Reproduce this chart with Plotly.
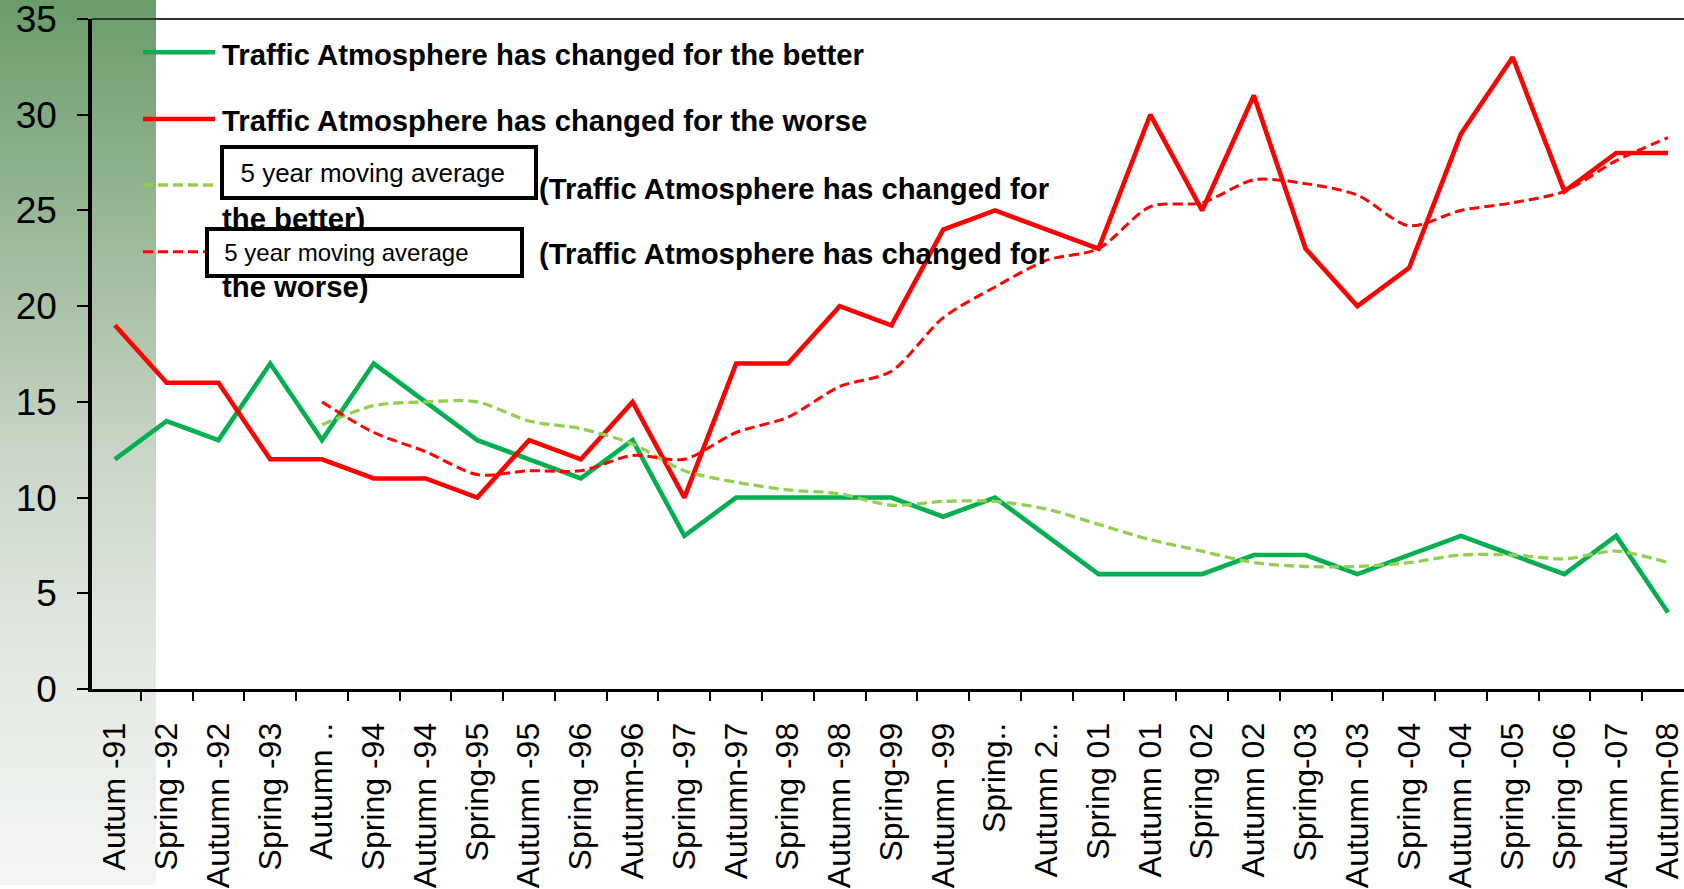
import base64
import plotly.graph_objects as go

# ---------------- data ----------------
categories = ["Autum -91", "Spring -92", "Autumn -92", "Spring -93", "Autumn ..",
              "Spring -94", "Autumn -94", "Spring-95", "Autumn -95", "Spring -96",
              "Autumn-96", "Spring -97", "Autumn-97", "Spring -98", "Autumn -98",
              "Spring-99", "Autumn -99", "Spring..", "Autumn 2..", "Spring 01",
              "Autumn 01", "Spring 02", "Autumn 02", "Spring-03", "Autumn -03",
              "Spring -04", "Autumn -04", "Spring -05", "Spring -06", "Autumn -07",
              "Autumn-08"]

better = [12, 14, 13, 17, 13, 17, 15, 13, 12, 11, 13, 8, 10, 10, 10, 10,
          9, 10, 8, 6, 6, 6, 7, 7, 6, 7, 8, 7, 6, 8, 4]
worse = [19, 16, 16, 12, 12, 11, 11, 10, 13, 12, 15, 10, 17, 17, 20, 19,
         24, 25, 24, 23, 30, 25, 31, 23, 20, 22, 29, 33, 26, 28, 28]
better_ma = [None, None, None, None, 13.8, 14.8, 15.0, 15.0, 14.0, 13.6, 12.8,
             11.4, 10.8, 10.4, 10.2, 9.6, 9.8, 9.8, 9.4, 8.6, 7.8, 7.2, 6.6,
             6.4, 6.4, 6.6, 7.0, 7.0, 6.8, 7.2, 6.6]
worse_ma = [None, None, None, None, 15.0, 13.4, 12.4, 11.2, 11.4, 11.4, 12.2,
            12.0, 13.4, 14.2, 15.8, 16.6, 19.4, 21.0, 22.4, 23.0, 25.2, 25.4,
            26.6, 26.4, 25.8, 24.2, 25.0, 25.4, 26.0, 27.6, 28.8]

y_ticks = [0, 5, 10, 15, 20, 25, 30, 35]

name_better = "Traffic Atmosphere has changed for the better"
name_worse = "Traffic Atmosphere has changed for the worse"
name_better_ma = "5 year moving average (Traffic Atmosphere has changed for the better)"
name_worse_ma = "5 year moving average (Traffic Atmosphere has changed for the worse)"
box_label = "5 year moving average"
legend_tail = "(Traffic Atmosphere has changed for"

# ---------------- styles ----------------
W, H = 1684, 889
ML, MT, MB = 92, 19, 200
PW, PH = W - ML, H - MT - MB
STEP = 51.77          # pixels per category
FIRST = 114.9         # pixel x of first category
X0 = -(FIRST - ML) / STEP
X1 = X0 + PW / STEP
FONT = "Arial, Liberation Sans, sans-serif"
GREEN = "#00B050"
RED = "#FF0000"
LGREEN = "#92D050"


def px(x):
    return (x - ML) / PW


def py(y):
    return (MT + PH - y) / PH


fig = go.Figure()
fig.add_trace(go.Scatter(x=categories, y=better, mode="lines", name=name_better,
                         line=dict(color=GREEN, width=4.6)))
fig.add_trace(go.Scatter(x=categories, y=worse, mode="lines", name=name_worse,
                         line=dict(color=RED, width=4.6)))
fig.add_trace(go.Scatter(x=categories, y=better_ma, mode="lines", name=name_better_ma,
                         line=dict(color=LGREEN, width=3.3, dash="10px,5px",
                                   shape="spline", smoothing=0.8)))
fig.add_trace(go.Scatter(x=categories, y=worse_ma, mode="lines", name=name_worse_ma,
                         line=dict(color=RED, width=3, dash="10px,5px",
                                   shape="spline", smoothing=0.8)))

# gradient panel on the left
stops = [(0.0, "#6A9C6A"), (0.34, "#A9C1A7"), (0.51, "#C9D5C6"),
         (0.73, "#E2E8E1"), (1.0, "#F4F6F4")]
stop_xml = "".join(f'<stop offset="{o}" stop-color="{c}"/>' for o, c in stops)
svg = ('<svg xmlns="http://www.w3.org/2000/svg" width="156" height="885" '
       'preserveAspectRatio="none" viewBox="0 0 156 885">'
       '<defs><linearGradient id="g" x1="0" y1="0" x2="0" y2="1">'
       + stop_xml +
       '</linearGradient></defs><rect x="0" y="0" width="156" height="885" fill="url(#g)"/></svg>')
src = "data:image/svg+xml;base64," + base64.b64encode(svg.encode()).decode()
fig.add_layout_image(dict(source=src, xref="paper", yref="paper",
                          x=px(0), y=py(0), sizex=156 / PW, sizey=885 / PH,
                          xanchor="left", yanchor="top", sizing="stretch",
                          layer="below"))

shapes = []
# top border line
shapes.append(dict(type="line", xref="paper", yref="paper", x0=0, x1=1, y0=1, y1=1,
                   line=dict(color="#333333", width=2)))
# legend symbols
leg = [(52.3, GREEN, 4.6, "solid"), (119, RED, 4.6, "solid"),
       (185, LGREEN, 3.3, "10px,5px"), (251.7, RED, 3, "10px,5px")]
for yy, col, wd, ds in leg:
    shapes.append(dict(type="line", xref="paper", yref="paper",
                       x0=px(143), x1=px(215), y0=py(yy), y1=py(yy),
                       line=dict(color=col, width=wd, dash=ds), layer="above"))

annotations = []
LEGF = dict(family=FONT, size=29.3, color="black")


def leg_text(txt, x, y):
    annotations.append(dict(text="<b>" + txt + "</b>", xref="paper", yref="paper",
                            x=px(x), y=py(y), xanchor="left", yanchor="middle",
                            showarrow=False, font=LEGF, borderpad=0, borderwidth=0))


leg_text(name_better, 222, 54)
leg_text(name_worse, 222, 120.5)
leg_text(legend_tail, 539, 188)
leg_text("the better)", 222, 219)
leg_text(legend_tail, 539, 253)
leg_text("the worse)", 222, 286.5)

# overlaid boxes
boxes = [(220, 145, 318, 55, 26), (205, 227, 319, 51, 24)]
for bx, by, bw, bh, fs in boxes:
    annotations.append(dict(text="\u00a0\u00a0" + box_label, xref="paper", yref="paper",
                            x=px(bx), y=py(by), xanchor="left", yanchor="top",
                            showarrow=False, align="left", valign="middle",
                            width=bw - 12, height=bh - 12,
                            bgcolor="white", bordercolor="black", borderwidth=4,
                            borderpad=2, font=dict(family=FONT, size=fs, color="black")))

fig.update_layout(
    width=W, height=H, autosize=False,
    margin=dict(l=ML, r=0, t=MT, b=MB, pad=0),
    paper_bgcolor="white", plot_bgcolor="rgba(0,0,0,0)",
    showlegend=False,
    shapes=shapes, annotations=annotations,
    font=dict(family=FONT, color="black"),
)
fig.update_xaxes(type="category", categoryorder="array", categoryarray=categories,
                 range=[X0, X1], tickson="boundaries",
                 ticks="outside", ticklen=9, tickwidth=2, tickcolor="black",
                 showline=True, linecolor="black", linewidth=3,
                 showgrid=False, zeroline=False, tickangle=-90,
                 tickfont=dict(family=FONT, size=32, color="black"),
                 ticklabelstandoff=18)
fig.update_yaxes(range=[0, 35], tickmode="array", tickvals=y_ticks,
                 ticktext=[str(v) for v in y_ticks],
                 ticks="outside", ticklen=11, tickwidth=2, tickcolor="black",
                 showline=True, linecolor="black", linewidth=3.5,
                 showgrid=False, zeroline=False, ticklabeloverflow="allow",
                 tickfont=dict(family=FONT, size=37, color="black"),
                 ticklabelstandoff=13)

fig.write_html("out.html", config={"displayModeBar": False},
               post_script="document.body.style.margin='0';document.body.style.overflow='hidden';")
